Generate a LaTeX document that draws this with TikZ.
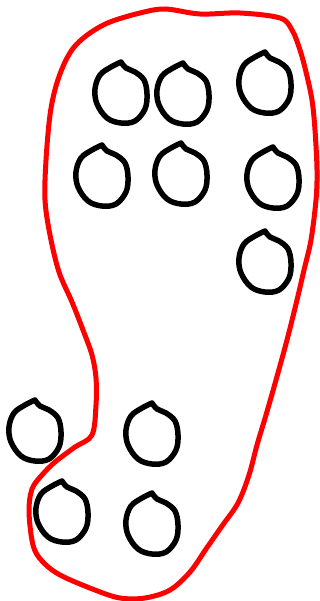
\documentclass[tikz,border=0pt]{standalone}
\usepackage{tikz}

\tikzset{
    boundary/.style={draw=red, line width=5pt, line join=round},
    ringline/.style={draw=black, line width=5.5pt, line join=round, line cap=round},
    ring/.pic={
        \draw[ringline] plot[smooth, tension=0.6] coordinates {
            (0,-31) (-10,-26) (-21,-18) (-26,-4) (-24,11) (-14,25) (0,30)
            (14,28) (24,16) (26,1) (23,-13) (14,-21) (5,-25) (0,-31)};
    }
}

\begin{document}
\begin{tikzpicture}[x=1pt, y=-1pt]

\useasboundingbox (0,0) rectangle (320,601);

% Red outline
\draw[boundary] plot[smooth cycle, tension=0.55] coordinates {
    (165,9) (200,14) (240,13) (280,18) (292,30) (300,50) (306,72)
    (312,100) (315,130) (317,170) (316,200) (311,240) (304,270)
    (297,300) (287,340) (276,380) (266,415) (257,445) (249,475)
    (238,503) (222,526) (206,549) (190,572) (170,590) (145,598)
    (120,598) (95,590) (60,575) (42,561) (33,545) (29,512) (32,489)
    (42,475) (55,462) (75,447) (92,435) (96,405) (96,378) (92,355)
    (83,330) (72,302) (59,272) (50,235) (45,200) (46,160) (50,115)
    (56,86) (65,62) (75,46) (90,33) (110,22) (140,13)};

% Top rows
\pic at (121,93) {ring};
\pic at (183,94) {ring};
\pic at (265,83) {ring};
\pic at (102,176) {ring};
\pic at (181,174) {ring};
\pic at (273,178) {ring};
\pic at (265,262) {ring};

% Bottom group
\pic at (35,431) {ring};
\pic at (152,434) {ring};
\pic at (62,512) {ring};
\pic at (152,524) {ring};

\end{tikzpicture}
\end{document}
